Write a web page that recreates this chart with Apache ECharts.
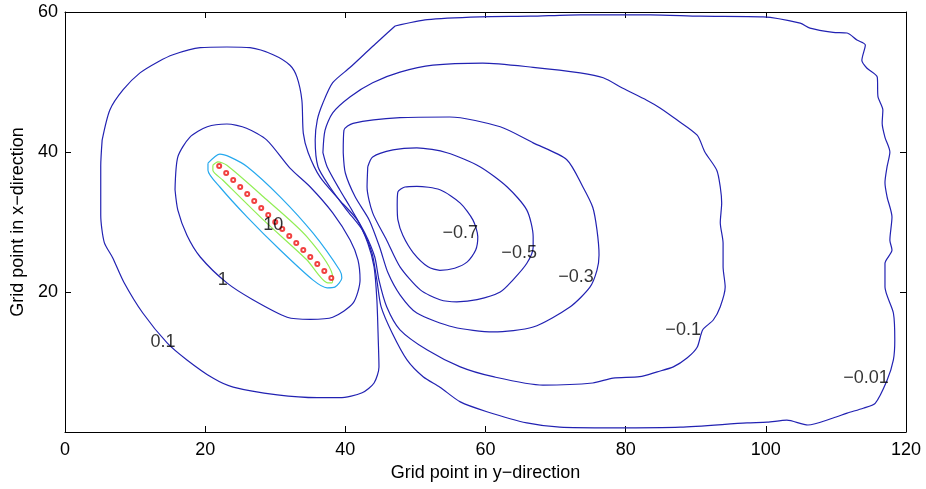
<!DOCTYPE html>
<html>
<head>
<meta charset="utf-8">
<script src="https://cdn.jsdelivr.net/npm/echarts@6/dist/echarts.min.js"></script>
<style>
html,body{margin:0;padding:0;background:#fff;}
#chart{width:926px;height:489px;}
</style>
</head>
<body>
<div id="chart"></div>
<script>
// contour lines as [y-grid, x-grid] points
const cPos01 = [[5.3,41.7],[6.4,46.0],[8.3,48.9],[10.7,51.3],[13.3,52.9],[15.4,53.9],[19.3,54.9],[23.1,55.0],[26.4,54.9],[29.7,53.9],[32.1,52.4],[33.1,50.7],[33.8,47.4],[34.0,42.7],[34.7,39.9],[36.4,36.4],[39.2,33.1],[41.7,30.3],[43.2,27.0],[44.1,23.6],[44.5,18.9],[44.7,13.1],[44.8,9.3],[44.1,7.0],[42.4,5.6],[39.2,4.9],[36.0,4.9],[30.3,5.3],[24.0,6.4],[21.1,7.7],[17.4,10.3],[14.6,12.7],[11.1,17.0],[8.4,21.4],[6.8,24.9],[5.6,27.1],[5.1,31.0],[5.1,35.0],[5.1,38.0],[5.3,41.7]];
const cPos1 = [[15.7,34.6],[16.1,39.3],[17.8,42.1],[20.3,43.6],[23.1,44.0],[25.9,43.4],[28.8,41.7],[32.1,37.7],[35.0,35.0],[38.2,31.3],[40.7,27.4],[41.8,24.6],[42.1,21.7],[41.1,18.4],[38.2,16.4],[35.0,16.1],[31.7,16.4],[26.8,18.9],[23.1,21.3],[19.3,25.0],[17.4,28.1],[16.1,31.7],[15.7,34.6]];
const cPos10 = [[20.4,38.4],[22.1,39.7],[23.5,39.3],[26.0,37.9],[30.7,33.6],[35.4,28.4],[39.2,23.1],[39.5,22.0],[38.5,20.7],[37.4,20.6],[35.4,21.7],[30.7,26.0],[26.0,30.7],[22.1,35.0],[20.4,37.4],[20.4,38.4]];
const cPosHi = [[21.1,38.1],[21.8,38.6],[23.1,38.1],[28.3,33.6],[34.5,27.9],[38.2,22.1],[38.1,21.3],[37.5,21.3],[34.5,24.6],[28.3,30.3],[22.5,36.0],[21.1,37.4],[21.1,38.1]];
const cNeg001 = [[47.1,58.0],[51.7,58.9],[59.2,59.3],[66.4,59.4],[73.5,59.6],[83.5,59.6],[90.6,59.4],[99.6,59.3],[104.9,58.4],[106.3,57.7],[109.6,57.1],[111.6,57.0],[113.0,56.0],[114.2,55.3],[113.7,53.1],[114.4,52.0],[115.9,50.7],[116.0,47.9],[116.7,46.0],[116.6,44.1],[117.0,42.1],[117.7,40.0],[117.3,37.9],[117.0,35.6],[117.3,33.6],[118.0,30.7],[117.7,27.4],[118.0,26.0],[117.0,24.1],[117.0,20.7],[118.2,17.0],[118.4,13.1],[118.2,10.3],[117.3,7.4],[115.6,4.1],[113.9,3.4],[111.6,2.7],[109.6,2.0],[106.0,1.0],[103.0,1.7],[100.2,1.4],[97.3,1.3],[87.8,0.7],[78.2,0.6],[70.6,0.7],[65.9,1.3],[60.2,2.9],[56.4,4.3],[53.5,6.4],[51.1,7.9],[48.8,10.3],[46.7,14.1],[45.1,17.9],[44.5,21.7],[43.8,25.6],[42.4,28.9],[40.2,31.7],[37.8,35.0],[36.1,37.9],[35.7,41.7],[36.0,44.6],[36.8,47.0],[38.2,49.9],[40.7,52.1],[43.8,55.0],[44.9,56.0],[47.1,58.0]];
const cNeg01 = [[36.8,39.9],[37.1,43.1],[38.2,45.6],[40.7,47.9],[43.9,49.9],[47.8,51.4],[52.5,52.4],[59.6,52.7],[66.8,52.1],[73.5,51.3],[76.8,50.6],[79.6,49.1],[83.0,47.4],[84.9,46.3],[87.3,44.6],[90.2,42.4],[91.3,40.0],[93.0,37.4],[93.5,35.0],[93.7,32.7],[93.5,29.9],[93.9,27.0],[93.9,23.6],[94.2,20.7],[93.5,17.9],[92.5,16.0],[91.0,14.6],[90.2,12.1],[88.8,10.6],[86.8,9.3],[84.5,8.6],[82.0,7.9],[78.2,7.7],[75.3,7.0],[68.2,6.7],[61.1,7.9],[56.4,9.3],[51.7,11.7],[47.8,14.6],[45.9,17.9],[44.8,21.7],[44.2,25.0],[42.8,28.4],[40.7,32.1],[39.2,34.6],[37.4,37.9],[36.8,39.9]];
const cNeg03 = [[39.7,39.9],[39.8,43.1],[41.1,44.1],[47.8,44.9],[54.9,45.0],[62.1,43.6],[66.8,41.3],[71.6,38.9],[73.9,35.0],[75.3,32.1],[75.9,28.9],[76.2,25.3],[75.9,23.1],[74.9,20.7],[72.1,17.9],[66.8,15.0],[61.1,14.3],[55.4,15.0],[50.2,17.0],[47.8,19.6],[46.1,22.7],[44.9,26.4],[43.4,30.3],[41.4,33.6],[40.0,37.0],[39.7,39.9]];
const cNeg05 = [[43.2,37.9],[43.9,39.3],[46.8,40.3],[50.2,40.6],[54.5,39.9],[59.2,37.9],[63.1,35.0],[65.9,31.7],[66.8,27.9],[66.8,26.4],[65.9,24.1],[63.9,21.7],[62.1,20.0],[58.8,18.9],[55.9,18.6],[53.5,18.9],[50.7,20.3],[47.8,23.6],[45.9,27.4],[43.9,31.3],[43.1,35.0],[43.2,37.9]];
const cNeg07 = [[47.4,32.4],[47.5,34.3],[48.5,35.0],[50.2,35.1],[53.5,34.6],[56.4,32.7],[58.2,30.3],[58.9,27.9],[58.6,26.0],[57.4,24.3],[55.6,23.4],[53.5,23.1],[51.8,23.6],[49.7,25.6],[48.2,28.1],[47.5,30.3],[47.4,32.4]];

// source points (red markers)
const srcPts = [[22,38],[23,37],[24,36],[25,35],[26,34],[27,33],[28,32],[29,31],[30,30],[31,29],[32,28],[33,27],[34,26],[35,25],[36,24],[37,23],[38,22]];

// contour labels
const labelText = ['10','1','0.1','\u22120.7','\u22120.5','\u22120.3','\u22120.1','\u22120.01'];
const labelX = [29.7,22.5,14.0,56.4,64.8,72.9,88.2,114.3];
const labelY = [29.6,21.7,12.9,28.4,25.6,22.1,14.6,7.7];

const xTicks = [0,20,40,60,80,100,120];
const yTicks = [0,20,40,60];

const dark = '#2222b2';
const lines = [
  {d: cPos01, c: dark}, {d: cPos1, c: dark}, {d: cPos10, c: '#26a9ee'}, {d: cPosHi, c: '#92ee55'},
  {d: cNeg001, c: dark}, {d: cNeg01, c: dark}, {d: cNeg03, c: dark}, {d: cNeg05, c: dark}, {d: cNeg07, c: dark}
];

const font = 'Liberation Sans, Arial, sans-serif';
let chart = echarts.init(document.getElementById('chart'));

let series = lines.map(function (l) {
  return {
    type: 'line', data: l.d, symbol: 'none', smooth: 0.25, animation: false,
    lineStyle: {color: l.c, width: 1.2}, z: 2
  };
});
series.push({
  type: 'scatter', data: srcPts, symbol: 'emptyCircle', symbolSize: 4,
  itemStyle: {color: '#ee1111', borderWidth: 1}, z: 3, animation: false
});
series.push({
  type: 'scatter', symbolSize: 0, z: 4, animation: false,
  data: labelText.map(function (t, i) { return {name: t, value: [labelX[i], labelY[i]]}; }),
  label: {show: true, position: 'inside', formatter: '{b}', color: '#000', fontSize: 18, fontFamily: font}
});

function axisBase(min, max, interval) {
  return {
    type: 'value', min: min, max: max, interval: interval,
    axisLine: {show: true, onZero: false, lineStyle: {color: '#000', width: 1}},
    axisTick: {show: true, inside: true, length: 6, lineStyle: {color: '#000'}},
    splitLine: {show: false}
  };
}

let xb = axisBase(xTicks[0], xTicks[xTicks.length - 1], xTicks[1] - xTicks[0]);
let yb = axisBase(yTicks[0], yTicks[yTicks.length - 1], yTicks[1] - yTicks[0]);

let option = {
  backgroundColor: '#fff',
  animation: false,
  grid: {left: 65, right: 20, top: 12, bottom: 57, containLabel: false},
  xAxis: [
    Object.assign({}, xb, {
      position: 'bottom',
      axisLabel: {color: '#000', fontSize: 18, fontFamily: font, margin: 9},
      name: 'Grid point in y\u2212direction', nameLocation: 'middle', nameGap: 25,
      nameTextStyle: {color: '#000', fontSize: 18, fontFamily: font}
    }),
    Object.assign({}, xb, {position: 'top', axisLabel: {show: false}})
  ],
  yAxis: [
    Object.assign({}, yb, {
      position: 'left',
      axisLabel: {color: '#000', fontSize: 18, fontFamily: font, margin: 7, showMinLabel: false},
      name: 'Grid point in x\u2212direction', nameLocation: 'middle', nameGap: 34,
      nameTextStyle: {color: '#000', fontSize: 18, fontFamily: font}
    }),
    Object.assign({}, yb, {position: 'right', axisLabel: {show: false}})
  ],
  series: series
};

chart.setOption(option);
</script>
</body>
</html>
